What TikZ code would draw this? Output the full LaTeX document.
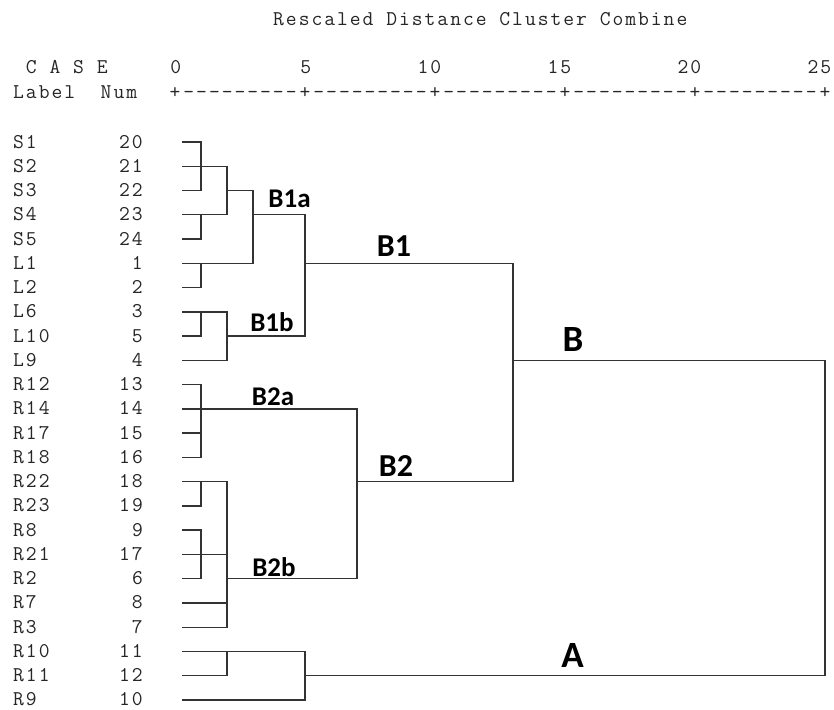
\documentclass[tikz,border=0pt]{standalone}
\usepackage{fontspec}
\newfontfamily\monof[LetterSpace=9.4]{Latin Modern Mono}
\newfontfamily\lblf{Carlito}
\begin{document}
\begin{tikzpicture}[x=1pt,y=-1pt,
  mono/.style={font=\monof\fontsize{21}{21}\selectfont, inner sep=0pt, text=black!85},
  clab/.style={font=\lblf\bfseries\fontsize{27}{27}\selectfont, inner sep=0pt},
  clabm/.style={clab, font=\lblf\bfseries\fontsize{32}{32}\selectfont},
  clabl/.style={clab, font=\lblf\bfseries\fontsize{37}{37}\selectfont},
  dend/.style={line width=1.4pt, draw=black!80, line cap=rect}]
\useasboundingbox (0,0) rectangle (834,709);
% header
\node[mono, anchor=base west] (title) at (273,26) {Rescaled Distance Cluster Combine};
\node[mono, anchor=base west] (case) at (13,74) {\ C A S E};
\node[mono, anchor=base west] (labnum) at (13,98) {Label\ \ Num};
\foreach \v [count=\k from 0] in {0,5,10,15,20,25}
  \node[mono, anchor=base east] (ax\k) at ({175+130*\k+6.5},74) {\v};
\foreach \k in {0,...,5}
  \node[mono, anchor=base] (pl\k) at ({175+130*\k},98) {+};
\foreach \k in {0,...,4}
  \node[mono, anchor=base] (ds\k) at ({240+130*\k},98) {---------};
% leaves
\foreach \nm/\nu [count=\i from 0] in {S1/20,S2/21,S3/22,S4/23,S5/24,L1/1,L2/2,L6/3,L10/5,L9/4,R12/13,R14/14,R17/15,R18/16,R22/18,R23/19,R8/9,R21/17,R2/6,R7/8,R3/7,R10/11,R11/12,R9/10} {
  \node[mono, anchor=base west] (lab\i) at (13,{142+24.26*\i+6}) {\nm};
  \node[mono, anchor=base east] (num\i) at (143,{142+24.26*\i+6}) {\nu};
  \coordinate (r\i) at (183,{142+24.26*\i});
}
% merge columns
\coordinate (c1) at (201,0);
\coordinate (c2) at (227,0);
\coordinate (c3) at (253,0);
\coordinate (c4) at (305,0);
\coordinate (c5) at (357,0);
\coordinate (c6) at (513,0);
\coordinate (c7) at (825,0);
% leaf lines: index/column
\foreach \i/\c in {0/c1,1/c2,2/c1,3/c2,4/c1,5/c3,6/c1,7/c2,8/c1,9/c2,
                   10/c1,11/c5,12/c1,13/c1,14/c2,15/c1,16/c1,17/c2,18/c1,19/c2,20/c2,
                   21/c4,22/c2,23/c4}
  \draw[dend] (r\i) -- (r\i -| \c);
% verticals: column/from/to
\foreach \c/\a/\b in {c1/0/2,c1/3/4,c2/1/3,c3/2/5,c1/5/6,c1/7/8,c2/7/9,c4/3/8,
                      c1/10/13,c1/14/15,c1/16/18,c2/14/20,c5/11/18,c6/5/14,
                      c2/21/22,c4/21/23,c7/9/22}
  \draw[dend] (r\a -| \c) -- (r\b -| \c);
% cluster lines: row/from/to
\foreach \i/\a/\b in {2/c2/c3,3/c3/c4,8/c2/c4,5/c4/c6,18/c2/c5,14/c5/c6,9/c6/c7,22/c4/c7}
  \draw[dend] (r\i -| \a) -- (r\i -| \b);
% cluster labels
\node[clab] (b1a) at (289.5,199) {B1a};
\node[clab] (b1b) at (272,322) {B1b};
\node[clabm] (b1) at (394,246) {B1};
\node[clab] (b2a) at (273,397) {B2a};
\node[clabm] (b2) at (396,466) {B2};
\node[clab] (b2b) at (274,567) {B2b};
\node[clabl] (bb) at (573,339) {B};
\node[clabl] (aa) at (572.5,655) {A};
\end{tikzpicture}
\end{document}
